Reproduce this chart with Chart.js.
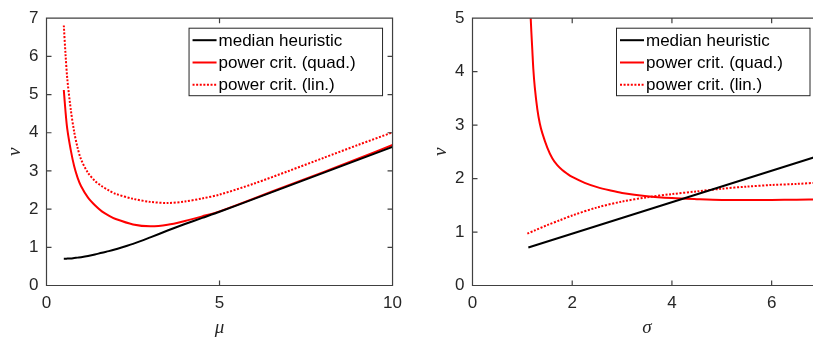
<!DOCTYPE html>
<html>
<head>
<meta charset="utf-8">
<script src="https://cdn.jsdelivr.net/npm/chart.js@4"></script>
<style>
  html, body { margin: 0; padding: 0; background: #fff; overflow: hidden; }
  body { width: 813px; height: 339px; position: relative; }
  #left { position: absolute; left: 0; top: 0; }
  #right { position: absolute; left: 410px; top: 0; }
</style>
</head>
<body>
<canvas id="left" width="410" height="339"></canvas>
<canvas id="right" width="420" height="339"></canvas>
<script>
// left panel: nu against mu
const mu = [0.5, 0.55, 0.6, 0.7, 0.8, 0.9, 1.0, 1.2, 1.4, 1.6, 1.8, 2.0, 2.5, 3.0, 3.5, 4.0, 4.5, 5, 6, 7, 8, 9, 10];
const muMedian = [0.70, 0.70, 0.705, 0.71, 0.72, 0.73, 0.74, 0.77, 0.81, 0.86, 0.90, 0.95, 1.09, 1.26, 1.44, 1.61, 1.77, 1.93, 2.27, 2.61, 2.95, 3.29, 3.63];
const muQuad = [5.12, 4.55, 4.1, 3.55, 3.12, 2.82, 2.6, 2.3, 2.1, 1.94, 1.83, 1.74, 1.60, 1.55, 1.59, 1.69, 1.81, 1.94, 2.28, 2.63, 2.97, 3.32, 3.68];
const muLin = [6.81, 6.05, 5.42, 4.62, 4.02, 3.6, 3.3, 2.95, 2.74, 2.6, 2.49, 2.4, 2.27, 2.19, 2.16, 2.2, 2.28, 2.38, 2.67, 3.0, 3.34, 3.68, 4.01];

// right panel: nu against sigma
const sigmaMedian = [1.12, 7];
const nuMedian = [0.71, 2.44];
const sigmaQuad = [1.16, 1.18, 1.2, 1.22, 1.25, 1.3, 1.35, 1.4, 1.5, 1.6, 1.7, 1.8, 1.9, 2.0, 2.25, 2.5, 2.75, 3.0, 3.5, 4.0, 4.5, 5.0, 5.5, 6.0, 6.5, 7];
const nuQuad = [5.15, 4.75, 4.4, 4.05, 3.7, 3.3, 3.03, 2.85, 2.58, 2.38, 2.25, 2.16, 2.09, 2.03, 1.92, 1.84, 1.78, 1.73, 1.67, 1.635, 1.615, 1.60, 1.60, 1.60, 1.605, 1.61];
const sigmaLin = [1.1, 1.25, 1.5, 1.75, 2.0, 2.5, 3.0, 3.5, 4.0, 4.5, 5.0, 5.5, 6.0, 6.5, 7];
const nuLin = [0.97, 1.03, 1.13, 1.22, 1.31, 1.46, 1.57, 1.65, 1.71, 1.76, 1.81, 1.85, 1.88, 1.90, 1.93];

const labels = ['median heuristic', 'power crit. (quad.)', 'power crit. (lin.)'];

Chart.defaults.font.family = '"Liberation Sans", Arial, sans-serif';
Chart.defaults.font.size = 17;
Chart.defaults.color = '#262626';

function pts(xs, ys) {
  return xs.map((x, i) => ({x: x, y: ys[i]}));
}

function series(xs, ys, label, color, dash) {
  return {
    label: label,
    data: pts(xs, ys),
    borderColor: color,
    borderWidth: 2,
    borderDash: dash || [],
    pointRadius: 0,
    fill: false,
    tension: 0.3,
  };
}

// axes box with inward ticks on all four sides, plus a boxed legend
const boxPlugin = {
  id: 'boxLegend',
  afterDatasetsDraw(chart, args, opts) {
    const ctx = chart.ctx;
    const a = chart.chartArea;
    const xs = chart.scales.x, ys = chart.scales.y;
    ctx.save();
    ctx.strokeStyle = '#404040';
    ctx.lineWidth = 1.2;
    ctx.beginPath();
    ctx.rect(a.left, a.top, a.right - a.left, a.bottom - a.top);
    xs.ticks.forEach(t => {
      const px = xs.getPixelForValue(t.value);
      ctx.moveTo(px, a.bottom); ctx.lineTo(px, a.bottom - 5);
      ctx.moveTo(px, a.top); ctx.lineTo(px, a.top + 5);
    });
    ys.ticks.forEach(t => {
      const py = ys.getPixelForValue(t.value);
      ctx.moveTo(a.left, py); ctx.lineTo(a.left + 5, py);
      ctx.moveTo(a.right, py); ctx.lineTo(a.right - 5, py);
    });
    ctx.stroke();

    // legend
    const bx = a.right - opts.right - opts.width;
    const by = a.top + opts.top;
    ctx.fillStyle = '#fff';
    ctx.fillRect(bx, by, opts.width, opts.height);
    ctx.strokeStyle = '#262626';
    ctx.lineWidth = 1;
    ctx.strokeRect(bx, by, opts.width, opts.height);
    ctx.font = '17px "Liberation Sans", Arial, sans-serif';
    ctx.textBaseline = 'middle';
    ctx.textAlign = 'left';
    chart.data.datasets.forEach((ds, i) => {
      const cy = by + 12 + i * 22.3;
      ctx.beginPath();
      ctx.strokeStyle = ds.borderColor;
      ctx.lineWidth = ds.borderWidth;
      ctx.setLineDash(ds.borderDash);
      ctx.moveTo(bx + 3.5, cy);
      ctx.lineTo(bx + 27.5, cy);
      ctx.stroke();
      ctx.setLineDash([]);
      ctx.fillStyle = '#000';
      ctx.fillText(ds.label, bx + 29.5, cy + 1);
    });
    ctx.restore();
  }
};

function makeChart(id, datasets, xMax, xStep, yMax, yTitle, xTitle, yAxisWidth, rightPad, titleGap, legend) {
  return new Chart(document.getElementById(id), {
    type: 'line',
    data: { datasets: datasets },
    plugins: [boxPlugin],
    options: {
      responsive: false,
      animation: false,
      layout: { padding: { left: 0, top: 12.5, right: rightPad, bottom: 0 } },
      plugins: {
        legend: { display: false },
        tooltip: { enabled: false },
        boxLegend: legend,
      },
      scales: {
        x: {
          type: 'linear',
          min: 0,
          max: xMax,
          grid: { display: false, drawTicks: false },
          border: { display: false },
          ticks: { stepSize: xStep, padding: 8, color: '#262626' },
          afterBuildTicks: s => { s.ticks = s.ticks.filter(t => t.value % xStep === 0); },
          afterFit: s => { s.height = 339 - 285.5; },
          title: {
            display: true,
            text: xTitle,
            color: '#262626',
            font: { family: '"Liberation Serif", "DejaVu Serif", serif', style: 'italic', size: 19 },
            padding: { top: 0, bottom: 0 },
          },
        },
        y: {
          min: 0,
          max: yMax,
          grid: { display: false, drawTicks: false },
          border: { display: false },
          ticks: { stepSize: 1, padding: 8, color: '#262626' },
          afterFit: s => { s.width = yAxisWidth; },
          title: {
            display: true,
            text: yTitle,
            color: '#262626',
            font: { family: '"Liberation Serif", "DejaVu Serif", serif', style: 'italic', size: 19 },
            padding: { top: titleGap, bottom: 0 },
          },
        },
      },
    },
  });
}

makeChart('left', [
  series(mu, muMedian, labels[0], '#000000'),
  series(mu, muQuad, labels[1], '#ff0000'),
  series(mu, muLin, labels[2], '#ff0000', [2, 1.6]),
], 10, 5, 7, 'ν', 'μ', 46.5, 15.5, 4, { right: 10, top: 10, width: 193.5, height: 67.5 });

makeChart('right', [
  series(sigmaMedian, nuMedian, labels[0], '#000000'),
  series(sigmaQuad, nuQuad, labels[1], '#ff0000'),
  series(sigmaLin, nuLin, labels[2], '#ff0000', [2, 1.6]),
], 7, 2, 5, 'ν', 'σ', 62.5, 8.5, 20, { right: 11.5, top: 10, width: 193.5, height: 67.5 });
</script>
</body>
</html>
